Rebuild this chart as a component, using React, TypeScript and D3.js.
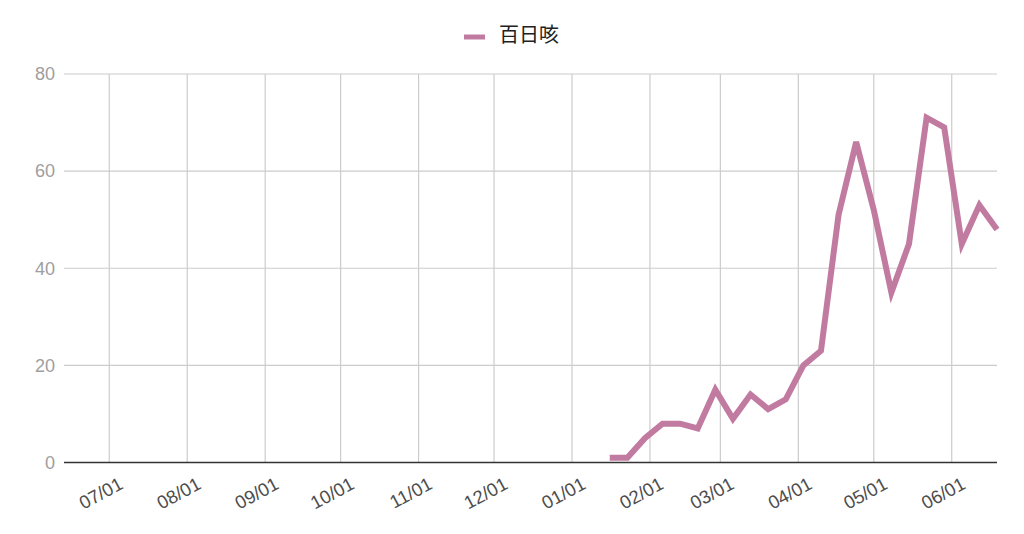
import React from 'react';
import * as d3 from 'd3';

// weekly reports (week starting)
const weeks: string[] = [
  '2025-01-16', '2025-01-23', '2025-01-30', '2025-02-06', '2025-02-13',
  '2025-02-20', '2025-02-27', '2025-03-06', '2025-03-13', '2025-03-20',
  '2025-03-27', '2025-04-03', '2025-04-10', '2025-04-17', '2025-04-24',
  '2025-05-01', '2025-05-08', '2025-05-15', '2025-05-22', '2025-05-29',
  '2025-06-05', '2025-06-12', '2025-06-19',
];
const cases: number[] = [
  1, 1, 5, 8, 8, 7, 15, 9, 14, 11, 13, 20, 23, 51, 66, 52, 35, 45, 71, 69, 45, 53, 48,
];
const seriesName = '百日咳';
const dateRange: string[] = ['2024-06-13', '2025-06-19'];
const monthTicks: string[] = [
  '2024-07-01', '2024-08-01', '2024-09-01', '2024-10-01', '2024-11-01', '2024-12-01',
  '2025-01-01', '2025-02-01', '2025-03-01', '2025-04-01', '2025-05-01', '2025-06-01',
];
const yTicks: number[] = [0, 20, 40, 60, 80];

const W = 1024;
const H = 534;
const margin = { top: 74, right: 27, bottom: 71.5, left: 64 };
const color = '#c27ba0';
const font = '"Liberation Sans", Arial, sans-serif';

const parse = d3.timeParse('%Y-%m-%d');
const fmt = d3.timeFormat('%m/%d');

export default function App() {
  const x = d3
    .scaleTime()
    .domain(dateRange.map(d => parse(d) as Date))
    .range([margin.left, W - margin.right]);
  const y = d3
    .scaleLinear()
    .domain([0, 80])
    .range([H - margin.bottom, margin.top]);

  const points = weeks.map((w, i) => ({ date: parse(w) as Date, value: cases[i] }));
  const line = d3
    .line<{ date: Date; value: number }>()
    .x(d => x(d.date))
    .y(d => y(d.value));

  const [x0, x1] = x.range();
  const [y0, y1] = y.range();

  return (
    <svg
      width={W}
      height={H}
      style={{ position: 'absolute', left: 0, top: 0, background: '#fff' }}
    >
      {/* legend */}
      <line x1={464} x2={485} y1={37} y2={37} stroke={color} strokeWidth={5} />
      <text
        x={499}
        y={42}
        fontSize={20}
        fill="#222"
        fontFamily='"Noto Sans CJK JP", "Noto Sans", sans-serif'
      >
        {seriesName}
      </text>

      {/* grid */}
      {yTicks.filter(t => t !== 0).map(t => (
        <line key={'h' + t} x1={x0} x2={x1} y1={y(t)} y2={y(t)} stroke="#cccccc" strokeWidth={1.2} />
      ))}
      {monthTicks.map(m => {
        const xx = x(parse(m) as Date);
        return <line key={'v' + m} x1={xx} x2={xx} y1={y1} y2={y0} stroke="#cccccc" strokeWidth={1.2} />;
      })}
      <line x1={x0} x2={x1} y1={y(0)} y2={y(0)} stroke="#333" strokeWidth={1.5} />

      {/* y labels */}
      {yTicks.map(t => (
        <text
          key={'yl' + t}
          x={55}
          y={y(t)}
          dy="0.35em"
          textAnchor="end"
          fontSize={18}
          fill="#9e9e9e"
          fontFamily={font}
        >
          {t}
        </text>
      ))}

      {/* x labels */}
      {monthTicks.map(m => {
        const xx = x(parse(m) as Date);
        return (
          <text
            key={'xl' + m}
            transform={`translate(${xx + 15},${488}) rotate(-28)`}
            textAnchor="end"
            fontSize={18.5}
            fill="#4d4d4d"
            fontFamily={font}
          >
            {fmt(parse(m) as Date)}
          </text>
        );
      })}

      {/* series */}
      <path d={line(points) || ''} fill="none" stroke={color} strokeWidth={6} />
    </svg>
  );
}
